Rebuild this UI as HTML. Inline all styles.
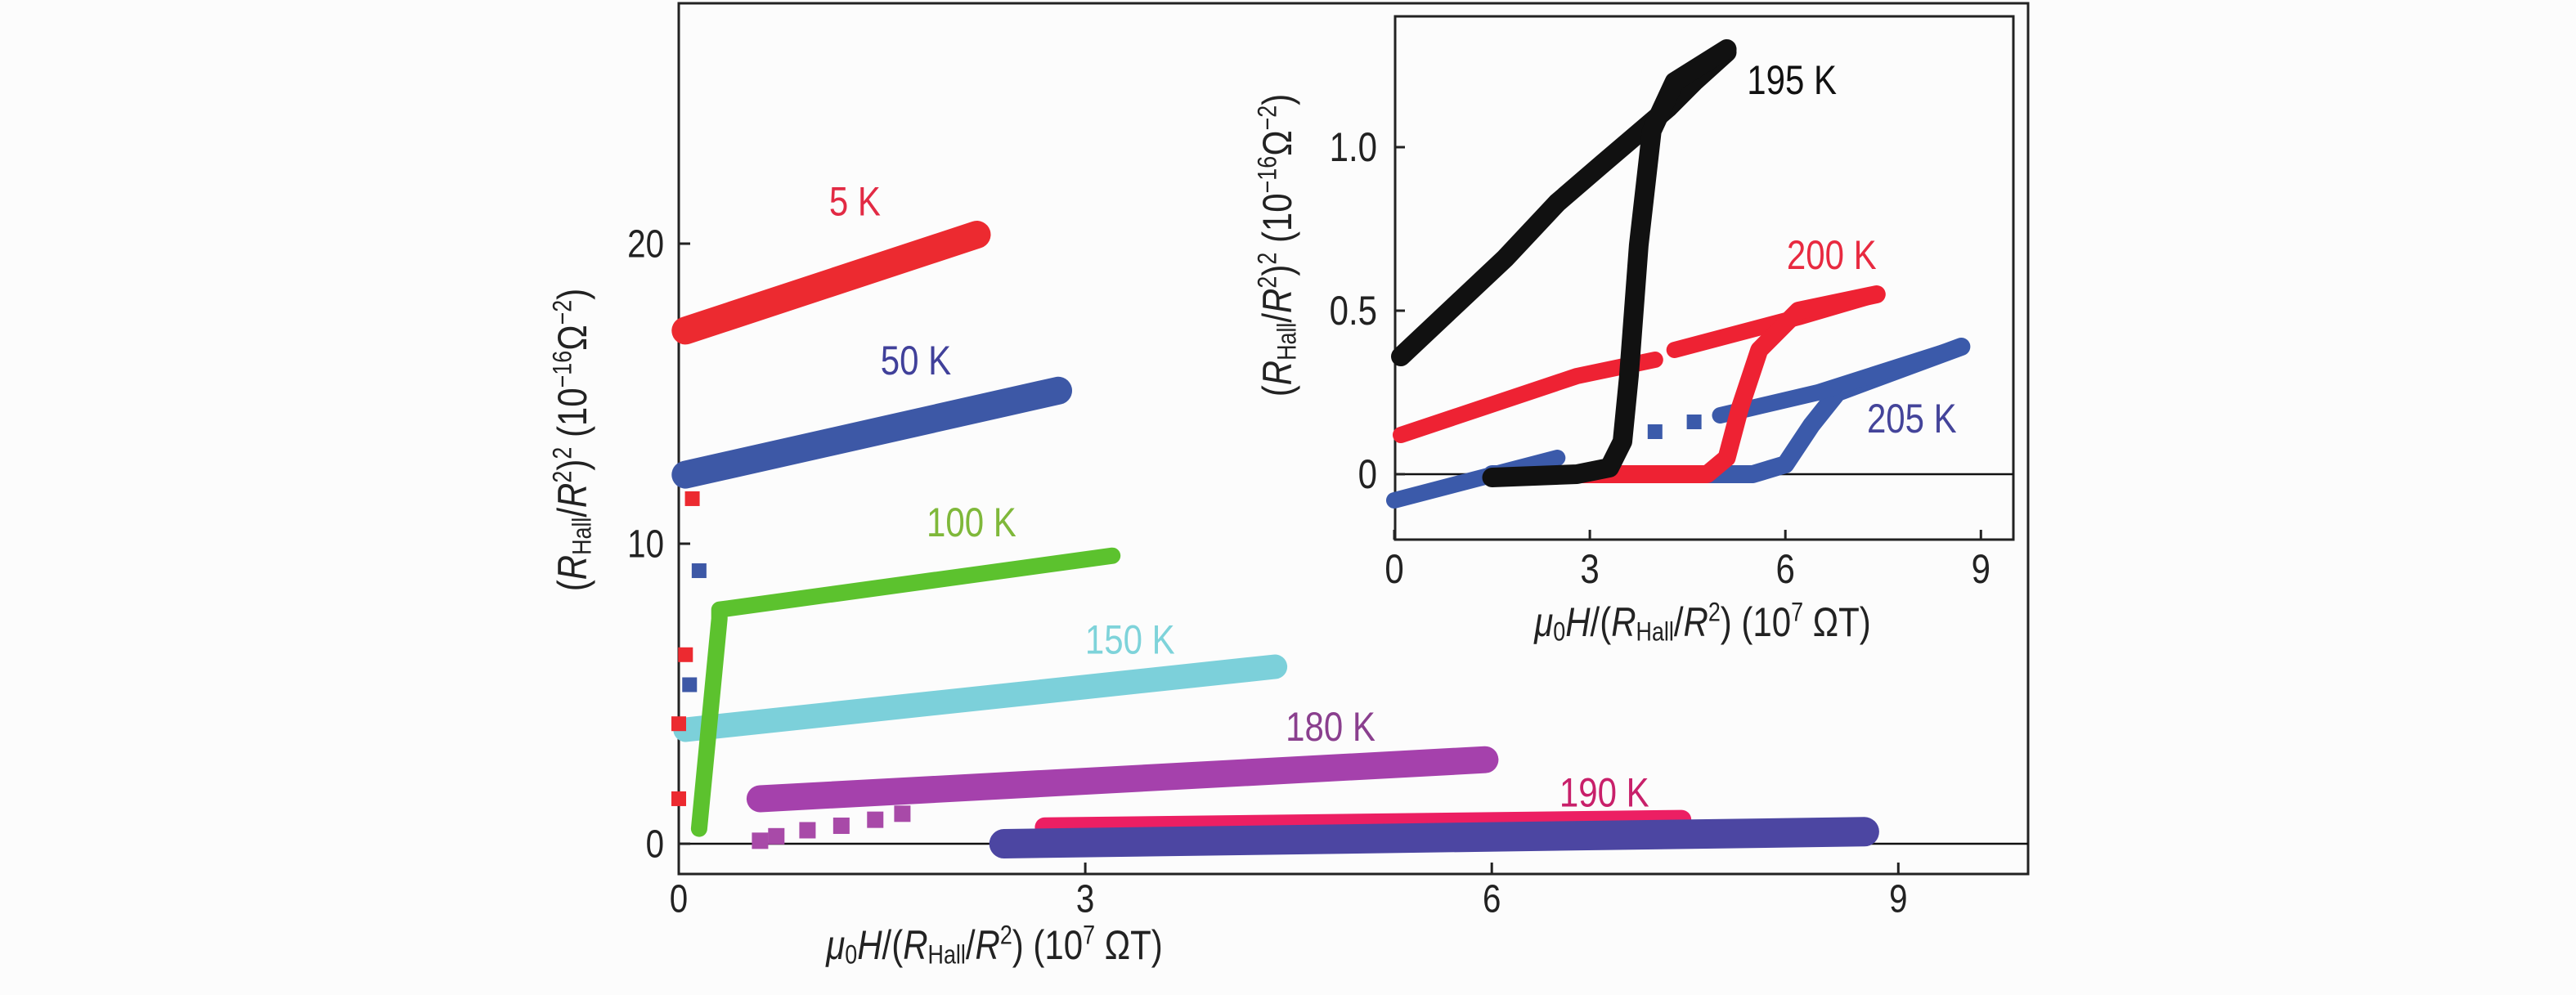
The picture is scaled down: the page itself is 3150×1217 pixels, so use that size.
<!DOCTYPE html>
<html><head><meta charset="utf-8"><style>
html,body{margin:0;padding:0;background:#fcfcfc;}
svg{display:block;font-family:"Liberation Sans Narrow","Liberation Sans",sans-serif;}
</style></head><body>
<svg id="c" width="3150" height="1217" viewBox="0 0 3150 1217" xmlns="http://www.w3.org/2000/svg"></svg>
<script>
// ---- main chart data ----
const s5x = [0.05, 2.2], s5y = [17.1, 20.3];
const s50x = [0.05, 2.8], s50y = [12.3, 15.1];
const s100x = [0.15, 0.3, 0.3, 3.2], s100y = [0.5, 7.5, 7.8, 9.6];
const s150x = [0.05, 4.4], s150y = [3.8, 5.9];
const s180x = [0.6, 5.95], s180y = [1.5, 2.8];
const s190ax = [2.7, 7.4], s190ay = [0.55, 0.8];
const s190bx = [2.4, 8.75], s190by = [0.0, 0.4];
const redSqX = [0.1, 0.05, 0.0, 0.0], redSqY = [11.5, 6.3, 4.0, 1.5];
const blueSqX = [0.15, 0.08], blueSqY = [9.1, 5.3];
const purpSqX = [0.6, 0.72, 0.95, 1.2, 1.45, 1.65], purpSqY = [0.1, 0.25, 0.45, 0.6, 0.8, 1.0];
const mainXTicks = [0, 3, 6, 9], mainYTicks = [0, 10, 20];
const mainLabels = ["5 K","50 K","100 K","150 K","180 K","190 K"];
const mainLabelX = [1.3, 1.75, 2.16, 3.33, 4.81, 6.83];
const mainLabelY = [21.3, 16.0, 10.6, 6.7, 3.8, 1.6];
// ---- inset data ----
const k195ux = [0.1, 1.7, 2.5, 3.2, 4.2, 4.6, 5.1], k195uy = [0.36, 0.66, 0.83, 0.95, 1.12, 1.2, 1.29];
const k195lx = [1.5, 2.8, 3.3, 3.5, 3.6, 3.75, 3.95, 4.3, 5.1], k195ly = [-0.01, 0.0, 0.02, 0.1, 0.3, 0.7, 1.05, 1.2, 1.3];
const k200ax = [0.1, 2.8, 4.0], k200ay = [0.12, 0.3, 0.35];
const k200bx = [4.3, 6.2, 7.4], k200by = [0.38, 0.48, 0.55];
const k200lx = [2.7, 4.8, 5.1, 5.3, 5.6, 6.2, 7.4], k200ly = [0.0, 0.0, 0.05, 0.2, 0.38, 0.5, 0.55];
const k205ax = [0.0, 2.5], k205ay = [-0.08, 0.05];
const k205lx = [1.5, 5.5, 6.0, 6.4, 6.8, 8.7], k205ly = [0.0, 0.0, 0.03, 0.15, 0.25, 0.39];
const k205ux = [5.0, 6.5, 8.7], k205uy = [0.18, 0.25, 0.39];
const k205sqX = [4.0, 4.6], k205sqY = [0.13, 0.16];
const insetXTicks = [0, 3, 6, 9], insetYTicks = [0, 0.5, 1.0];
const insetYTickLabels = ["0", "0.5", "1.0"];
const insetLabels = ["195 K","200 K","205 K"];
const insetLabelX = [6.1, 6.71, 7.94], insetLabelY = [1.195, 0.66, 0.16];

const NS = "http://www.w3.org/2000/svg";
const svg = document.getElementById("c");
const SX = 0.84;
function mk(tag, attrs, parent) {
  const e = document.createElementNS(NS, tag);
  for (const k in attrs) e.setAttribute(k, attrs[k]);
  (parent || svg).appendChild(e);
  return e;
}
const mx = v => 830 + v * 165.7;
const my = v => 1032 - v * 36.7;
const ix = v => 1705 + v * 79.7;
const iy = v => 580 - v * 400;

function line(xs, ys, fx, fy, color, w, name) {
  const p = xs.map((v, i) => fx(v).toFixed(1) + "," + fy(ys[i]).toFixed(1)).join(" ");
  const el = mk("polyline", {points: p, fill: "none", stroke: color, "stroke-width": w, "stroke-linecap": "round", "stroke-linejoin": "round"});
  
  
  return el;
}
function squares(xs, ys, fx, fy, color, s, name) {
  xs.forEach((v, i) => {
    const el = mk("rect", {x: fx(v) - s / 2, y: fy(ys[i]) - s / 2, width: s, height: s, fill: color});
    
    
  });
}
function text(str, x, y, size, color, anchor, name) {
  const el = mk("text", {x: 0, y: 0, "font-size": size, fill: color, "text-anchor": anchor || "middle", "dominant-baseline": "middle", transform: "translate(" + x + "," + y + ") scale(" + SX + ",1)"});
  el.textContent = str;
  
  
  return el;
}

const mf = mk("rect", {x: 830, y: 4, width: 1650, height: 1065, fill: "none", stroke: "#222", "stroke-width": 3});


const zl = mk("line", {x1: 830, x2: 2480, y1: my(0), y2: my(0), stroke: "#111", "stroke-width": 2.5});


mainXTicks.forEach(t => {
  const tk = mk("line", {x1: mx(t), x2: mx(t), y1: 1069, y2: 1055, stroke: "#222", "stroke-width": 3});
  
  
  text(String(t), mx(t), 1103, 48, "#222", "middle", "x-tick-label");
});
mainYTicks.forEach(t => {
  const tk = mk("line", {x1: 830, x2: 844, y1: my(t), y2: my(t), stroke: "#222", "stroke-width": 3});
  
  
  text(String(t), 812, my(t) + 4, 48, "#222", "end", "y-tick-label");
});

line(s150x, s150y, mx, my, "#7cd0da", 30, "series-150k");
line(s180x, s180y, mx, my, "#a541ac", 33, "series-180k");
line(s190ax, s190ay, mx, my, "#ec1f63", 24, "series-190k-pink");
line(s190bx, s190by, mx, my, "#4c46a2", 36, "series-190k");
line(s5x, s5y, mx, my, "#ec2a30", 34, "series-5k");
line(s50x, s50y, mx, my, "#3d58a6", 34, "series-50k");
line(s100x, s100y, mx, my, "#5cc22e", 20, "series-100k");
squares(redSqX, redSqY, mx, my, "#ec2a30", 18, "scatter-red");
squares(blueSqX, blueSqY, mx, my, "#3d58a6", 18, "scatter-blue");
squares(purpSqX, purpSqY, mx, my, "#a84aa8", 20, "scatter-purple");
const mainColors = ["#e22a44", "#40409a", "#7fb83a", "#7ed3da", "#8a3f8e", "#c8206a"];
mainLabels.forEach((l, i) => text(l, mx(mainLabelX[i]), my(mainLabelY[i]), 50, mainColors[i], "middle", "series-label"));

const TITLE = '<tspan font-style="italic">μ</tspan><tspan font-size="32" dy="10">0</tspan><tspan dy="-10" font-style="italic">H</tspan>/(<tspan font-style="italic">R</tspan><tspan font-size="32" dy="10">Hall</tspan><tspan dy="-10">/</tspan><tspan font-style="italic">R</tspan><tspan font-size="32" dy="-14">2</tspan><tspan dy="14">) (10</tspan><tspan font-size="32" dy="-14">7</tspan><tspan dy="14"> ΩT)</tspan>';
const YTITLE = '(<tspan font-style="italic">R</tspan><tspan font-size="32" dy="10">Hall</tspan><tspan dy="-10">/</tspan><tspan font-style="italic">R</tspan><tspan font-size="32" dy="-14">2</tspan><tspan dy="14">)</tspan><tspan font-size="32" dy="-14">2</tspan><tspan dy="14"> (10</tspan><tspan font-size="32" dy="-14">−16</tspan><tspan dy="14">Ω</tspan><tspan font-size="32" dy="-14">−2</tspan><tspan dy="14">)</tspan>';

const mxt = mk("text", {x: 0, y: 0, "font-size": 50, fill: "#222", "text-anchor": "middle", "dominant-baseline": "middle", transform: "translate(1216,1160) scale(" + SX + ",1)"});
mxt.innerHTML = TITLE;


const myt = mk("text", {x: 0, y: 0, "font-size": 50, fill: "#222", "text-anchor": "middle", "dominant-baseline": "middle", transform: "translate(704,538) rotate(-90) scale(" + SX + ",1)"});
myt.innerHTML = YTITLE;



const ib = mk("rect", {x: 1706, y: 20, width: 756, height: 640, fill: "#fcfcfc", stroke: "#222", "stroke-width": 3});


const izl = mk("line", {x1: 1706, x2: 2462, y1: iy(0), y2: iy(0), stroke: "#111", "stroke-width": 2.5});


insetXTicks.forEach(t => {
  const tk = mk("line", {x1: ix(t), x2: ix(t), y1: 660, y2: 648, stroke: "#222", "stroke-width": 3});
  
  
  text(String(t), ix(t), 700, 50, "#222", "middle", "inset-x-tick-label");
});
insetYTicks.forEach((t, i) => {
  const tk = mk("line", {x1: 1706, x2: 1718, y1: iy(t), y2: iy(t), stroke: "#222", "stroke-width": 3});
  
  
  text(insetYTickLabels[i], 1684, iy(t) + 4, 50, "#222", "end", "inset-y-tick-label");
});
line(k205ax, k205ay, ix, iy, "#3b5aaa", 20, "inset-205k-low");
line(k205lx, k205ly, ix, iy, "#3b5aaa", 22, "inset-205k-rise");
line(k205ux, k205uy, ix, iy, "#3b5aaa", 20, "inset-205k-upper");
squares(k205sqX, k205sqY, ix, iy, "#3b5aaa", 18, "inset-205k-points");
line(k200ax, k200ay, ix, iy, "#ee2233", 20, "inset-200k-upper-a");
line(k200bx, k200by, ix, iy, "#ee2233", 20, "inset-200k-upper-b");
line(k200lx, k200ly, ix, iy, "#ee2233", 22, "inset-200k-rise");
line(k195ux, k195uy, ix, iy, "#111", 24, "inset-195k-upper");
line(k195lx, k195ly, ix, iy, "#111", 24, "inset-195k-rise");
const insetColors = ["#111", "#e82a40", "#44449a"];
insetLabels.forEach((l, i) => text(l, ix(insetLabelX[i]), iy(insetLabelY[i]), 50, insetColors[i], "middle", "inset-series-label"));
const ixt = mk("text", {x: 0, y: 0, "font-size": 50, fill: "#222", "text-anchor": "middle", "dominant-baseline": "middle", transform: "translate(2082,765) scale(" + SX + ",1)"});
ixt.innerHTML = TITLE;


const iyt = mk("text", {x: 0, y: 0, "font-size": 50, fill: "#222", "text-anchor": "middle", "dominant-baseline": "middle", transform: "translate(1566,300) rotate(-90) scale(" + SX + ",1)"});
iyt.innerHTML = YTITLE;


</script>
</body></html>
